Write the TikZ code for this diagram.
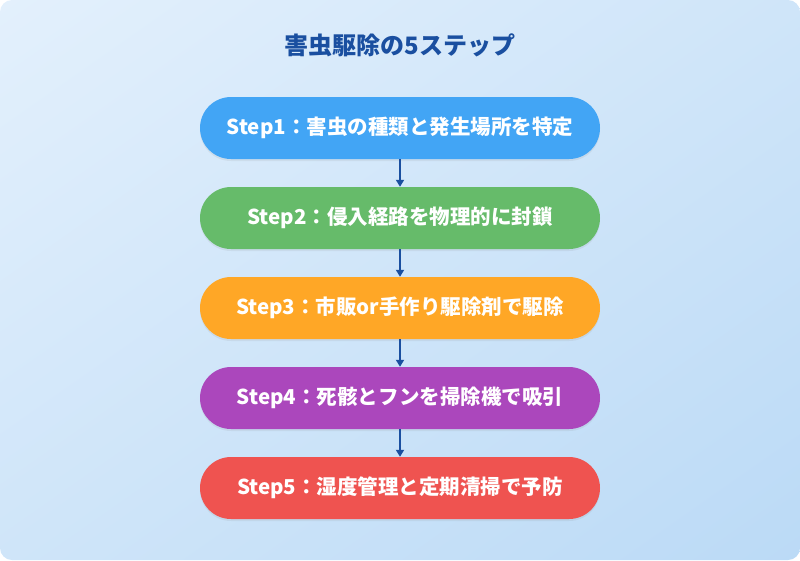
\documentclass[tikz,border=0pt]{standalone}
\usepackage{fontspec}
\setmainfont{Noto Sans CJK JP}
\usetikzlibrary{positioning,arrows.meta,shadows,shadings}
\definecolor{bgtop}{HTML}{E3F0FC}
\definecolor{bgbot}{HTML}{BBDAF6}
\definecolor{titleblue}{HTML}{1A4FA0}
\definecolor{stepA}{HTML}{42A5F5}
\definecolor{stepB}{HTML}{66BB6A}
\definecolor{stepC}{HTML}{FFA726}
\definecolor{stepD}{HTML}{AB47BC}
\definecolor{stepE}{HTML}{EF5350}
\begin{document}
\begin{tikzpicture} [
        x=1pt, y=-1pt,
        stepbox/.style={rounded corners=31pt,minimum width=400pt,minimum height=62pt,
            inner sep=0pt,text=white,font=\bfseries\fontsize{20.5}{24}\selectfont,
            drop shadow={opacity=0.12,shadow xshift=0pt,shadow yshift=-2pt}},
        link/.style = {draw=titleblue,line width=2pt,-{Triangle[length=7pt,width=8pt]}},
    ]
    \shade[upper left=bgtop,upper right=bgtop!50!bgbot,lower left=bgtop!50!bgbot,
        lower right=bgbot,rounded corners=12pt]
        (0,0) rectangle (800,560);
    \node[text=titleblue,font=\bfseries\fontsize{24}{28}\selectfont] (title) at (400,45) {害虫駆除の5ステップ};
    \foreach \y/\name/\col/\txt in {
            128/s1/stepA/{Step1：害虫の種類と発生場所を特定},
            218/s2/stepB/{Step2：侵入経路を物理的に封鎖},
            308/s3/stepC/{Step3：市販or手作り駆除剤で駆除},
            398/s4/stepD/{Step4：死骸とフンを掃除機で吸引},
            488/s5/stepE/{Step5：湿度管理と定期清掃で予防}}
        \node[stepbox,fill=\col] (\name) at (400,\y) {\txt};
    \foreach \source/\dest in {s1/s2,s2/s3,s3/s4,s4/s5}
        \path[link] (\source) -- (\dest);
\end{tikzpicture}
\end{document}
